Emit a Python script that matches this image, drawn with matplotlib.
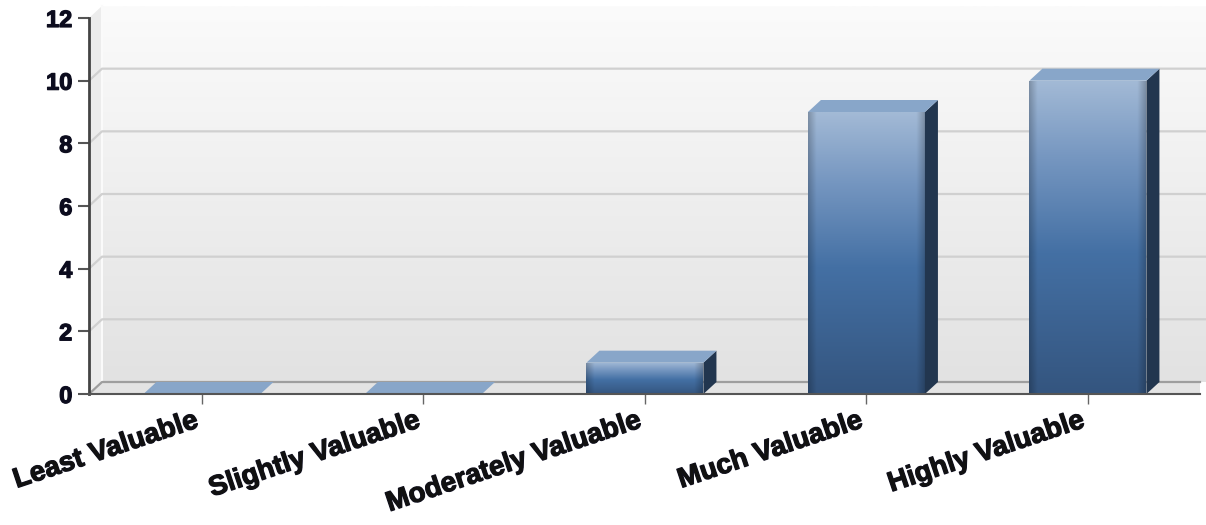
import numpy as np
import matplotlib.pyplot as plt
import matplotlib.patheffects as pe
import matplotlib.transforms as mtransforms
from matplotlib.patches import Polygon
from matplotlib.colors import LinearSegmentedColormap

categories = ["Least Valuable", "Slightly Valuable", "Moderately Valuable",
              "Much Valuable", "Highly Valuable"]
responses = [0, 0, 1, 9, 10]
y_ticks = [0, 2, 4, 6, 8, 10, 12]

plt.rcParams['font.family'] = ['Liberation Sans', 'DejaVu Sans']

W, H = 1206, 525
fig = plt.figure(figsize=(W / 100, H / 100), dpi=100)
# plot area in pixels: x 89..1200, y 18..394 (from top)
ax = fig.add_axes([89 / W, (H - 394) / H, (1200 - 89) / W, (394 - 18) / H])
ax.patch.set_visible(False)

x = np.arange(len(categories))
xlim = (-0.51, len(categories) - 0.494)
ylim = (0, 12)
px_x = (1200 - 89) / (xlim[1] - xlim[0])
px_y = (394 - 18) / (ylim[1] - ylim[0])

# depth of the fake 3D look (about 13 px right, 12 px up)
dx = 13 / px_x
dy = 12 / px_y
x0, x1 = xlim
ytop = ylim[1]

# back wall with a soft vertical gradient
wall_cmap = LinearSegmentedColormap.from_list('wall', ['#e2e2e2', '#fbfbfb'])
ax.imshow(np.linspace(0, 1, 256)[:, None], extent=(x0 + dx, x1 + 0.03, dy, ytop + dy),
          origin='lower', aspect='auto', cmap=wall_cmap, zorder=0, clip_on=False)

# left side wall and floor
ax.add_patch(Polygon([(x0, 0), (x0 + dx, dy), (x0 + dx, ytop + dy), (x0, ytop)],
                     closed=True, fc='#ececec', ec='none', zorder=0.5, clip_on=False))
ax.add_patch(Polygon([(x0, 0), (x0 + dx, dy), (x1, dy), (x1, 0)],
                     closed=True, fc='#e3e3e3', ec='none', zorder=0.6, clip_on=False))
ax.plot([x0 + dx, x0 + dx], [dy, ytop + dy], color='#fafafa', lw=1.5, zorder=0.7, clip_on=False)

# grid lines on the walls
for v in y_ticks[1:-1]:
    ax.plot([x0, x0 + dx, x1 + 0.03], [v, v + dy, v + dy], color='#d0d0d0', lw=1.6,
            zorder=1, clip_on=False)
ax.plot([x0, x0 + dx, x1], [0, dy, dy], color='#9e9e9e', lw=1.6, zorder=1.5, clip_on=False)

# bars: front face via ax.bar, then gradient, side and top faces
bar_w = 117 / px_x
bars = ax.bar(x, responses, width=bar_w, color='none', zorder=3)

front_cmap = LinearSegmentedColormap.from_list(
    'front', [(0, '#34557f'), (0.45, '#4470a4'), (0.75, '#7596c0'), (1, '#a3bad6')])
ny, nx = 256, 120
u = np.linspace(0, 1, nx)
edge = np.clip(1 - np.minimum(u, 1 - u) / 0.07, 0, 1)
shade = 1 - 0.22 * edge
grad = front_cmap(np.linspace(0, 1, ny))[:, None, :3] * shade[None, :, None]

for rect, v in zip(bars, responses):
    xl = rect.get_x()
    xr = xl + rect.get_width()
    if v > 0:
        im = ax.imshow(grad, extent=(xl, xr, 0, v), origin='lower', aspect='auto',
                       zorder=3, interpolation='bilinear')
        im.set_clip_path(rect)
        ax.add_patch(Polygon([(xr, 0), (xr + dx, dy), (xr + dx, v + dy), (xr, v)],
                             closed=True, fc='#22364f', ec='none', zorder=3))
    ax.add_patch(Polygon([(xl, v), (xl + dx, v + dy), (xr + dx, v + dy), (xr, v)],
                         closed=True, fc='#88a6c9', ec='none', zorder=3))

ax.set_xlim(xlim)
ax.set_ylim(ylim)

for s in ['top', 'right']:
    ax.spines[s].set_visible(False)
ax.spines['left'].set_color('#444444')
ax.spines['left'].set_linewidth(2)
ax.spines['bottom'].set_color('#555555')
ax.spines['bottom'].set_linewidth(1.5)
ax.spines['left'].set_zorder(5)
ax.spines['bottom'].set_zorder(5)

heavy = [pe.withStroke(linewidth=0.9, foreground='#111122')]

ax.set_yticks(y_ticks)
ax.set_yticklabels([str(t) for t in y_ticks], fontsize=17, fontweight='bold',
                   color='#0c0c1e', path_effects=heavy)
ax.tick_params(axis='y', length=8, width=1.5, color='#555555', pad=4)

ax.set_xticks(x)
ax.set_xticklabels(categories, rotation=18.5, ha='right', va='top', rotation_mode='anchor',
                   fontsize=20, fontweight='bold', color='#111111', path_effects=heavy)
ax.tick_params(axis='x', length=7, width=1, color='#666666', pad=3)
# nudge the slanted labels so their ends sit just left of the ticks
shift = mtransforms.ScaledTranslation(-9 / 100, 0, fig.dpi_scale_trans)
for lab in ax.get_xticklabels():
    lab.set_transform(lab.get_transform() + shift)

fig.savefig('out.png', dpi=100)
